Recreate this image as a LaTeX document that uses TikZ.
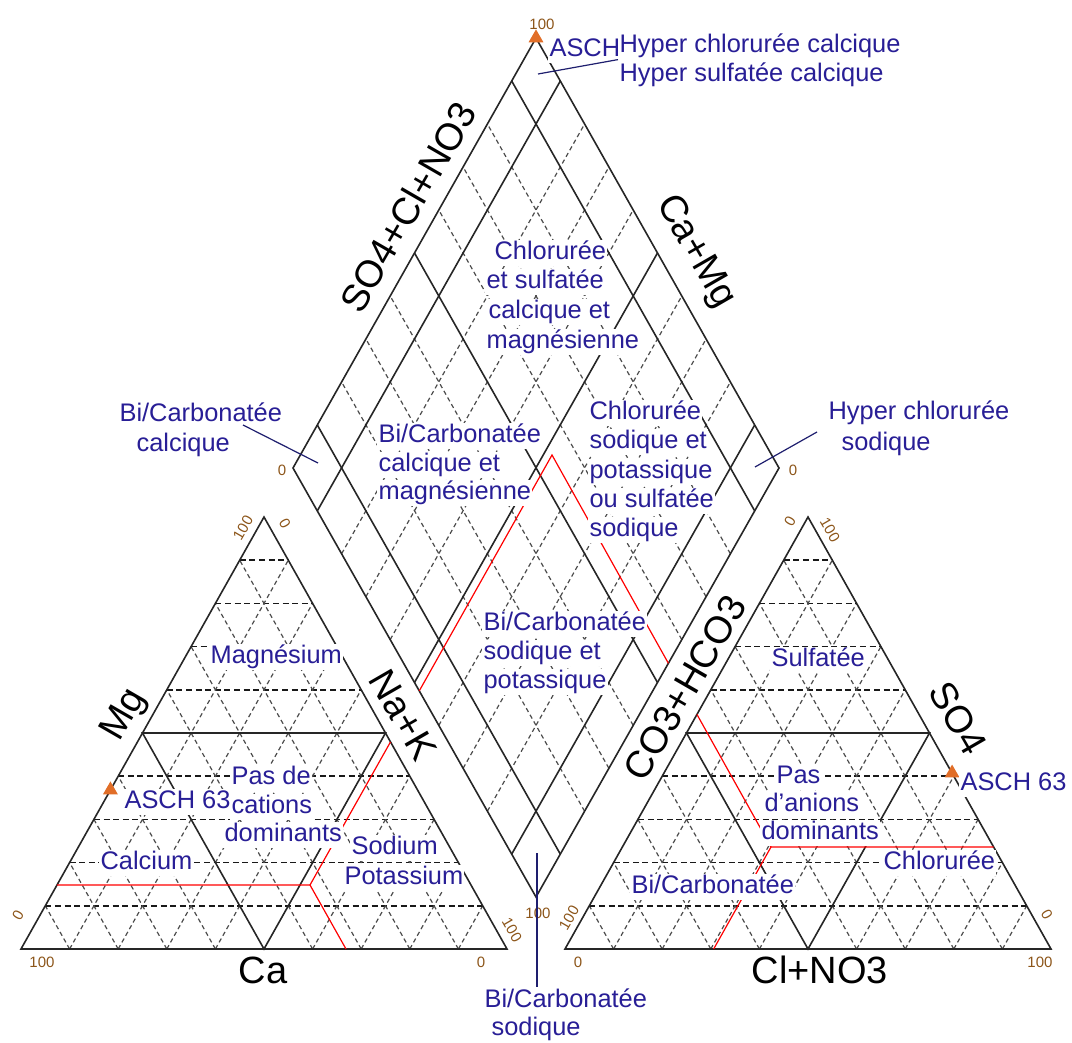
\documentclass[tikz,border=0pt]{standalone}
\usepackage{fontspec}
\setmainfont{Liberation Sans}
\usetikzlibrary{calc,shapes.geometric}
\definecolor{lblue}{RGB}{40,30,150}
\definecolor{lnavy}{RGB}{30,30,110}
\definecolor{smpor}{RGB}{225,110,40}
\definecolor{tickc}{RGB}{140,85,25}

\begin{document}
\begin{tikzpicture}[x=0.5pt, y=-0.5pt,
	edge/.style={line width=0.8pt, black!85},
	hgrid/.style={line width=0.75pt, black!90, dash pattern=on 3pt off 1.8pt},
	dgrid/.style={line width=0.6pt, black!70, dash pattern=on 2.2pt off 1.6pt},
	redl/.style={line width=0.6pt, red},
	lead/.style={line width=0.6pt, lnavy},
	lbl/.style={fill=white, text=lblue, font=\fontsize{12.7}{14}\selectfont, inner xsep=0.6pt, inner ysep=0.4pt, text height=9.6pt, text depth=2.8pt, anchor=west},
	axl/.style={font=\fontsize{19}{22}\selectfont, inner sep=0pt},
	tck/.style={text=tickc, font=\fontsize{7.5}{9}\selectfont, inner sep=0pt},
	smp/.style={regular polygon, regular polygon sides=3, fill=smpor, inner sep=0pt, minimum size=8.6pt}]
		\useasboundingbox (0,0) rectangle (1072,1043);
		\coordinate (LA) at (21,949); \coordinate (LB) at (507,949); \coordinate (LC) at (264,517);
		\coordinate (RA) at (565,949); \coordinate (RB) at (1051,949); \coordinate (RC) at (808,517);
		\coordinate (DB) at (536,897); \coordinate (DL) at (293,468); \coordinate (DR) at (779,468); \coordinate (DT) at (536,38);
		\foreach \t in {0.1,0.2,0.3,0.4,0.6,0.7,0.8,0.9}{
			\draw[dgrid] ($(LA)!\t!(LB)$) -- ($(LA)!\t!(LC)$);
			\draw[dgrid] ($(LB)!\t!(LA)$) -- ($(LB)!\t!(LC)$);
			\draw[dgrid] ($(RA)!\t!(RB)$) -- ($(RA)!\t!(RC)$);
			\draw[dgrid] ($(RB)!\t!(RA)$) -- ($(RB)!\t!(RC)$);
			\draw[hgrid] ($(LA)!\t!(LC)$) -- ($(LB)!\t!(LC)$);
			\draw[hgrid] ($(RA)!\t!(RC)$) -- ($(RB)!\t!(RC)$);
		}
		\foreach \t in {0.2,0.3,0.4,0.6,0.7,0.8}{
			\draw[dgrid] ($(DB)!\t!(DL)$) -- ($(DR)!\t!(DT)$);
			\draw[dgrid] ($(DB)!\t!(DR)$) -- ($(DL)!\t!(DT)$);
		}
		\foreach \t in {0.1,0.5,0.9}{
			\draw[edge] ($(DB)!\t!(DL)$) -- ($(DR)!\t!(DT)$);
			\draw[edge] ($(DB)!\t!(DR)$) -- ($(DL)!\t!(DT)$);
		}
		\draw[edge] ($(LA)!.5!(LC)$) -- ($(LB)!.5!(LC)$) -- ($(LA)!.5!(LB)$) -- cycle;
		\draw[edge] ($(RA)!.5!(RC)$) -- ($(RB)!.5!(RC)$) -- ($(RA)!.5!(RB)$) -- cycle;
		\draw[edge] (LA) -- (LB) -- (LC) -- cycle;
		\draw[edge] (RA) -- (RB) -- (RC) -- cycle;
		\draw[edge] (DB) -- (DR) -- (DT) -- (DL) -- cycle;
		\coordinate (P) at (552,455); \coordinate (J1) at (310,885); \coordinate (J2) at (771,847);
		\coordinate (J1h) at (J1 -| LB); \coordinate (J2h) at (J2 -| RA);
		\coordinate (J1d) at ($(J1)+(LB)-(LC)$); \coordinate (J2d) at ($(J2)+(RA)-(RC)$);
		\draw[redl] (intersection of J1--J1h and LA--LC) -- (J1) -- (intersection of J1--P and LB--LC);
		\draw[redl] (J1) -- (intersection of J1--J1d and LA--LB);
		\draw[redl] (intersection of J1--P and DL--DB) -- (P) -- (intersection of J2--P and DR--DB);
		\draw[redl] (intersection of J2--J2h and RB--RC) -- (J2) -- (intersection of J2--P and RA--RC);
		\draw[redl] (J2) -- (intersection of J2--J2d and RA--RB);
		\node[smp] (m1) at (DT) {};
		\node[smp] (m2) at ($(LA)!0.368!(LC)$) {};
		\node[smp] (m3) at ($(RB)!0.407!(RC)$) {};
		\node[axl, rotate=60] (axso) at (408,207) {SO4+Cl+NO3};
		\node[axl, rotate=-60] (axcm) at (695,252) {Ca+Mg};
		\node[axl, rotate=60] (axmg) at (125,715) {Mg};
		\node[axl] (axca) at (263,970) {Ca};
		\node[axl, rotate=-60] (axnk) at (403,715) {Na+K};
		\node[axl, rotate=60] (axco) at (685,688) {CO3+HCO3};
		\node[axl, rotate=-60] (axs) at (958,718) {SO4};
		\node[axl] (axcl) at (820,970) {Cl+NO3};
		\foreach \x/\y/\r/\t [count=\i] in {542/24/0/100, 282/470/0/0, 793/470/0/0, 538/913/0/100,
			243/528/60/100, 285/524/-60/0, 18/915/60/0, 512/930/-60/100, 42/962/0/100, 481/962/0/0,
			569/918/60/100, 578/962/0/0, 1040/962/0/100, 1047/915/-60/0, 790/521/60/0, 830/530/-60/100}
			\node[tck, rotate=\r] (tk\i) at (\x,\y) {\t};
		\node[lbl] (asch1) at (548,50) {ASCH 63};
		\node[lbl] (asch2) at (123,802) {ASCH 63};
		\node[lbl] (asch3) at (959,784) {ASCH 63};
		\foreach \x/\y/\t [count=\i] in {618/46/Hyper chlorurée calcique, 618/75/Hyper sulfatée calcique}
			\node[lbl] (hyp\i) at (\x,\y) {\t};
		\foreach \x/\y/\t [count=\i] in {493/253/Chlorurée, 485/282/et sulfatée, 487/312/calcique et, 485/342/magnésienne}
			\node[lbl] (cs\i) at (\x,\y) {\t};
		\foreach \x/\y/\t [count=\i] in {377/436/{Bi/Carbonatée}, 377/465/calcique et, 377/493/magnésienne}
			\node[lbl] (bc\i) at (\x,\y) {\t};
		\foreach \x/\y/\t [count=\i] in {588/413/Chlorurée, 588/442/sodique et, 588/472/potassique, 588/501/ou sulfatée, 588/530/sodique}
			\node[lbl] (cso\i) at (\x,\y) {\t};
		\foreach \x/\y/\t [count=\i] in {482/624/{Bi/Carbonatée}, 482/653/sodique et, 482/682/potassique}
			\node[lbl] (bs\i) at (\x,\y) {\t};
		\foreach \x/\y/\t [count=\i] in {118/415/{Bi/Carbonatée}, 135/445/calcique}
			\node[lbl] (bcc\i) at (\x,\y) {\t};
		\foreach \x/\y/\t [count=\i] in {827/413/Hyper chlorurée, 840/444/sodique}
			\node[lbl] (hcs\i) at (\x,\y) {\t};
		\foreach \x/\y/\t [count=\i] in {483/1001/{Bi/Carbonatée}, 490/1029/sodique}
			\node[lbl] (bsq\i) at (\x,\y) {\t};
		\node[lbl] (mag) at (209,657) {Magnésium};
		\foreach \x/\y/\t [count=\i] in {230/778/Pas de, 230/807/cations, 223/835/dominants}
			\node[lbl] (pc\i) at (\x,\y) {\t};
		\node[lbl] (calc) at (99,863) {Calcium};
		\foreach \x/\y/\t [count=\i] in {350/848/Sodium, 343/878/Potassium}
			\node[lbl] (np\i) at (\x,\y) {\t};
		\node[lbl] (sulf) at (770,660) {Sulfatée};
		\foreach \x/\y/\t [count=\i] in {775/777/Pas, 763/805/d'anions, 760/833/dominants}
			\node[lbl] (pa\i) at (\x,\y) {\t};
		\node[lbl] (chl) at (882,863) {Chlorurée};
		\node[lbl] (bcr) at (630,887) {Bi/Carbonatée};
		\coordinate (ht) at (538,74);
		\coordinate (bl1) at (243,425); \coordinate (bl2) at (318,463);
		\coordinate (hr1) at (817,432); \coordinate (hr2) at (755,467);
		\coordinate (bv) at (537,853);
		\draw[lead] (ht) -- (hyp1.south west);
		\draw[lead] (bl1) -- (bl2);
		\draw[lead] (hr1) -- (hr2);
		\draw[lead] (bv) -- (bv |- bsq1.north);
\end{tikzpicture}
\end{document}
